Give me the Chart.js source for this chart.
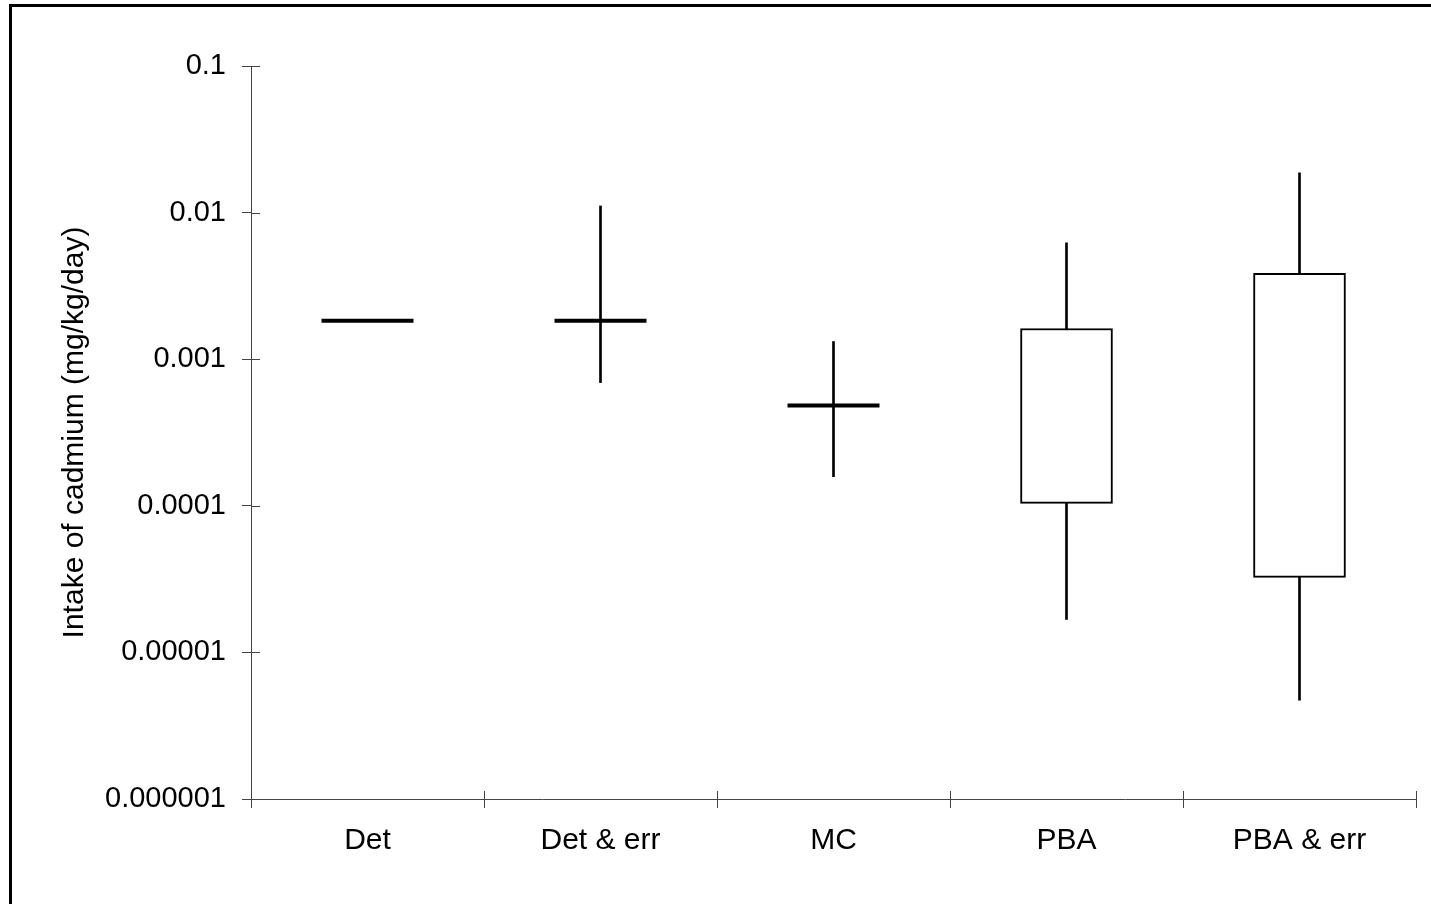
<!DOCTYPE html>
<html>
<head>
<meta charset="utf-8">
<script src="https://cdn.jsdelivr.net/npm/chart.js@4"></script>
<style>
    html, body { margin: 0; padding: 0; background: #fff; }
    #wrap { position: relative; width: 1431px; height: 904px; overflow: hidden; }
    #frame { position: absolute; left: 9px; top: 4px; width: 1440px; height: 920px;
             border-left: 3px solid #000; border-top: 3px solid #000; box-sizing: border-box; }
    canvas { position: absolute; left: 0; top: 0; }
</style>
</head>
<body>
<div id="wrap">
    <div id="frame"></div>
    <canvas id="myChart" width="1431" height="904"></canvas>
</div>
<script>
const categories = ['Det', 'Det & err', 'MC', 'PBA', 'PBA & err'];
const whiskerLow  = [null, 0.000693, 0.000158, 0.0000168, 0.00000472];
const whiskerHigh = [null, 0.0111,   0.00132,  0.00623,   0.0187];
const boxLow      = [null, null, null, 0.000104, 0.0000325];
const boxHigh     = [null, null, null, 0.00162,  0.00385];
const medians     = [0.00183, 0.00183, 0.000483, null, null];
const yTickValues = [0.000001, 0.00001, 0.0001, 0.001, 0.01, 0.1];
const yTickLabels = ['0.000001', '0.00001', '0.0001', '0.001', '0.01', '0.1'];

const axisColor = '#444';
const fontFamily = "'Liberation Sans', Arial, sans-serif";

function pairs(lo, hi) {
    return lo.map((v, i) => (v === null ? null : [v, hi[i]]));
}

// Chart.js only draws ticks outward; add the inner half so they cross the axis
const crossTicks = {
    id: 'crossTicks',
    afterDraw(chart) {
        const ctx = chart.ctx;
        const x = chart.scales.x;
        const y = chart.scales.y;
        ctx.save();
        ctx.strokeStyle = axisColor;
        ctx.lineWidth = 1;
        ctx.beginPath();
        yTickValues.forEach(v => {
            const py = Math.round(y.getPixelForValue(v)) + 0.5;
            ctx.moveTo(y.right, py);
            ctx.lineTo(y.right + 9, py);
        });
        for (let i = 0; i <= categories.length; i++) {
            const px = Math.round(x.getPixelForValue(i - 0.5)) + 0.5;
            ctx.moveTo(px, x.top);
            ctx.lineTo(px, x.top - 8);
        }
        ctx.stroke();
        ctx.restore();
    }
};

const ctx = document.getElementById('myChart').getContext('2d');
const myChart = new Chart(ctx, {
    type: 'bar',
    data: {
        labels: categories,
        datasets: [
            {
                label: 'range',
                data: pairs(whiskerLow, whiskerHigh),
                backgroundColor: '#000',
                borderWidth: 0,
                barThickness: 2,
                grouped: false,
                order: 3
            },
            {
                label: 'box',
                data: pairs(boxLow, boxHigh),
                backgroundColor: '#fff',
                borderColor: '#000',
                borderWidth: 2,
                borderSkipped: false,
                barThickness: 92,
                grouped: false,
                order: 2
            },
            {
                type: 'line',
                label: 'median',
                data: medians,
                showLine: false,
                pointStyle: 'line',
                pointRadius: 46,
                pointBorderWidth: 4,
                borderColor: '#000',
                backgroundColor: '#000',
                order: 1
            }
        ]
    },
    options: {
        responsive: false,
        animation: false,
        events: [],
        layout: { autoPadding: false, padding: { left: 11, top: 66, right: 15, bottom: 0 } },
        plugins: {
            legend: { display: false },
            tooltip: { enabled: false }
        },
        scales: {
            x: {
                offset: true,
                grid: { offset: true, drawOnChartArea: false, tickLength: 9, color: axisColor },
                border: { color: axisColor, width: 1 },
                ticks: { color: '#000', padding: 15, font: { family: fontFamily, size: 30 } },
                afterFit(scale) {
                    scale.height = 105;
                    scale.paddingLeft = 0;
                    scale.paddingRight = 0;
                }
            },
            y: {
                type: 'logarithmic',
                min: 0.000001,
                max: 0.1,
                grid: { drawOnChartArea: false, tickLength: 9, color: axisColor },
                border: { color: axisColor, width: 1 },
                afterBuildTicks(scale) {
                    scale.ticks = yTickValues.map(v => ({ value: v }));
                },
                ticks: {
                    color: '#000',
                    padding: 16,
                    font: { family: fontFamily, size: 29 },
                    callback: function(value) {
                        const i = yTickValues.findIndex(v => Math.abs(v - value) / v < 1e-6);
                        return i >= 0 ? yTickLabels[i] : '';
                    }
                },
                title: {
                    display: true,
                    text: 'Intake of cadmium (mg/kg/day)',
                    color: '#000',
                    font: { family: fontFamily, size: 30, weight: 'normal' },
                    padding: { top: 46, bottom: 0 }
                },
                afterFit(scale) { scale.width = 240; }
            }
        }
    },
    plugins: [crossTicks]
});
</script>
</body>
</html>
